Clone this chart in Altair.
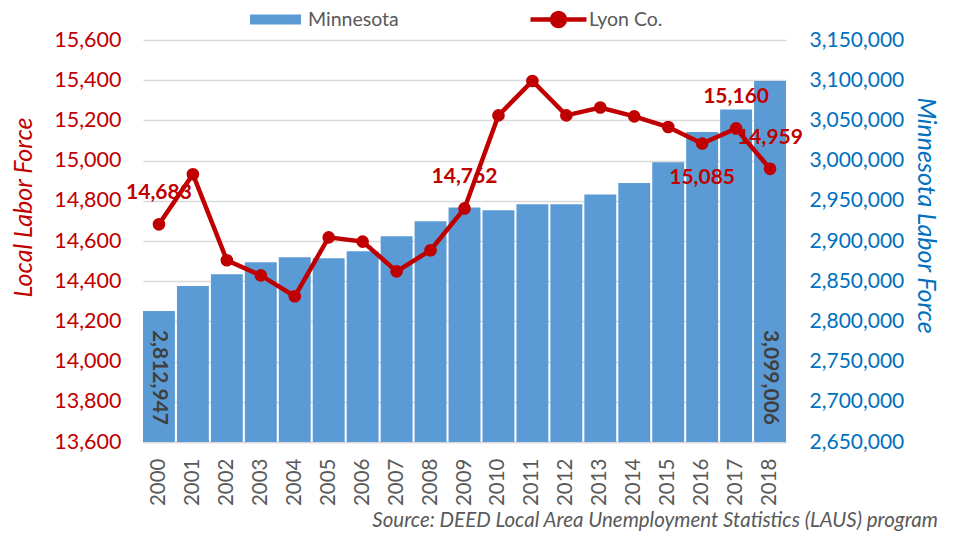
import altair as alt
import pandas as pd

years = [str(y) for y in range(2000, 2019)]
minnesota = [2812947, 2844000, 2858600, 2873500, 2879700, 2878500, 2887200,
             2905900, 2924500, 2941600, 2938200, 2945700, 2945700, 2957700,
             2972200, 2998000, 3035600, 3063500, 3099006]
lyon = [14683, 14932, 14504, 14429, 14325, 14618, 14597, 14449, 14554, 14762,
        15225, 15396, 15225, 15264, 15220, 15167, 15085, 15160, 14959]
labels_above = ["2000", "2009", "2017", "2018"]
labels_below = ["2016"]
bar_label_years = ["2000", "2018"]

df = pd.DataFrame({"year": years, "mn": minnesota, "lyon": lyon})
df["s_mn"] = "Minnesota"
df["s_lyon"] = "Lyon Co."
df["mn_base"] = 2650000

FONT = "Lato"
RED = "#c00000"
BLUE = "#0070c0"
BAR = "#5b9bd5"
GRAY = "#595959"

x_enc = alt.X("year:O", scale=alt.Scale(paddingInner=0.06, paddingOuter=0.0),
              axis=alt.Axis(title=None, labelAngle=-90, labelFontSize=20.5, labelColor=GRAY,
                            labelFont=FONT, ticks=False, domainColor="#d9d9d9", domainWidth=1.5,
                            labelPadding=16, grid=False))


def mn_scale():
    return alt.Scale(domain=[2650000, 3150000], nice=False, zero=False)


def lyon_scale():
    return alt.Scale(domain=[13600, 15600], nice=False, zero=False)


base = alt.Chart(df)

bars = base.mark_bar(stroke=None, clip=True).encode(
    x=x_enc,
    y=alt.Y("mn:Q", scale=mn_scale(),
            axis=alt.Axis(orient="right", values=list(range(2650000, 3150001, 50000)), format=",.0f",
                          labelFontSize=21, labelColor=BLUE, labelFont=FONT, ticks=False, domain=False,
                          grid=False, labelPadding=23, title="Minnesota Labor Force",
                          titleFontStyle="italic", titleFontWeight="normal", titleColor=BLUE,
                          titleFontSize=25, titleFont=FONT, titlePadding=9, titleY=175)),
    y2=alt.Y2("mn_base:Q"),
    color=alt.Color("s_mn:N", scale=alt.Scale(domain=["Minnesota"], range=[BAR]),
                    legend=alt.Legend(title=None, orient="none", legendX=107, legendY=-46,
                                      symbolType="M-1,-0.2L1,-0.2L1,0.2L-1,0.2Z", symbolSize=2601,
                                      symbolStrokeWidth=0, labelFontSize=19.5, labelColor=GRAY,
                                      labelFont=FONT, padding=0, labelOffset=7)),
)

bar_text = base.transform_filter(
    alt.FieldOneOfPredicate(field="year", oneOf=bar_label_years)
).mark_text(angle=90, align="right", baseline="middle", dx=-17, fontSize=21,
            fontWeight="bold", color="#404040", font=FONT).encode(
    x=alt.X("year:O"),
    y=alt.Y("mn_base:Q", scale=mn_scale(), axis=None),
    text=alt.Text("mn:Q", format=","),
)

line = base.mark_line(color=RED, strokeWidth=4.5).encode(
    x=alt.X("year:O"),
    y=alt.Y("lyon:Q", scale=lyon_scale(),
            axis=alt.Axis(orient="left", values=list(range(13600, 15601, 200)), format=",.0f",
                          labelFontSize=21.5, labelColor=RED, labelFont=FONT, ticks=False, domain=False,
                          grid=True, gridColor="#d9d9d9", gridWidth=1.5, labelPadding=22,
                          title="Local Labor Force", titleFontStyle="italic", titleFontWeight="normal",
                          titleColor=RED, titleFontSize=25, titleFont=FONT, titlePadding=17,
                          titleY=167)),
)

points = base.mark_circle(size=160, opacity=1).encode(
    x=alt.X("year:O"),
    y=alt.Y("lyon:Q", scale=lyon_scale(), axis=None),
    color=alt.Color("s_lyon:N", scale=alt.Scale(domain=["Lyon Co."], range=[RED]),
                    legend=alt.Legend(title=None, orient="none", legendX=385, legendY=-51,
                                      symbolType="M-1,0L1,0M0.23,0A0.23,0.23,0,1,1,-0.23,0A0.23,0.23,0,1,1,0.23,0Z",
                                      symbolSize=3136, symbolStrokeColor=RED, symbolFillColor=RED,
                                      symbolStrokeWidth=4.5, labelFontSize=19.5, labelColor=GRAY,
                                      labelFont=FONT, padding=0, labelOffset=0)),
)

above = base.transform_filter(
    alt.FieldOneOfPredicate(field="year", oneOf=labels_above)
).mark_text(dy=-31, fontSize=21, fontWeight="bold", color=RED, font=FONT).encode(
    x=alt.X("year:O"),
    y=alt.Y("lyon:Q", scale=lyon_scale(), axis=None),
    text=alt.Text("lyon:Q", format=","),
)

below = base.transform_filter(
    alt.FieldOneOfPredicate(field="year", oneOf=labels_below)
).mark_text(dy=34, fontSize=21, fontWeight="bold", color=RED, font=FONT).encode(
    x=alt.X("year:O"),
    y=alt.Y("lyon:Q", scale=lyon_scale(), axis=None),
    text=alt.Text("lyon:Q", format=","),
)

chart = alt.layer(
    bars, bar_text, line, points, above, below
).resolve_scale(y="independent", color="independent").properties(
    width=643, height=402,
    autosize=alt.AutoSizeParams(type="none"),
    padding={"left": 135, "top": 32, "right": 159, "bottom": 90},
    title=alt.TitleParams("Source: DEED Local Area Unemployment Statistics (LAUS) program",
                          orient="bottom", anchor="end", frame="bounds", fontSize=20.5,
                          fontStyle="italic", fontWeight="normal", color=GRAY, font=FONT, offset=5),
).configure_view(stroke=None)

chart.save("out.html", embed_options={"renderer": "svg", "actions": False})
